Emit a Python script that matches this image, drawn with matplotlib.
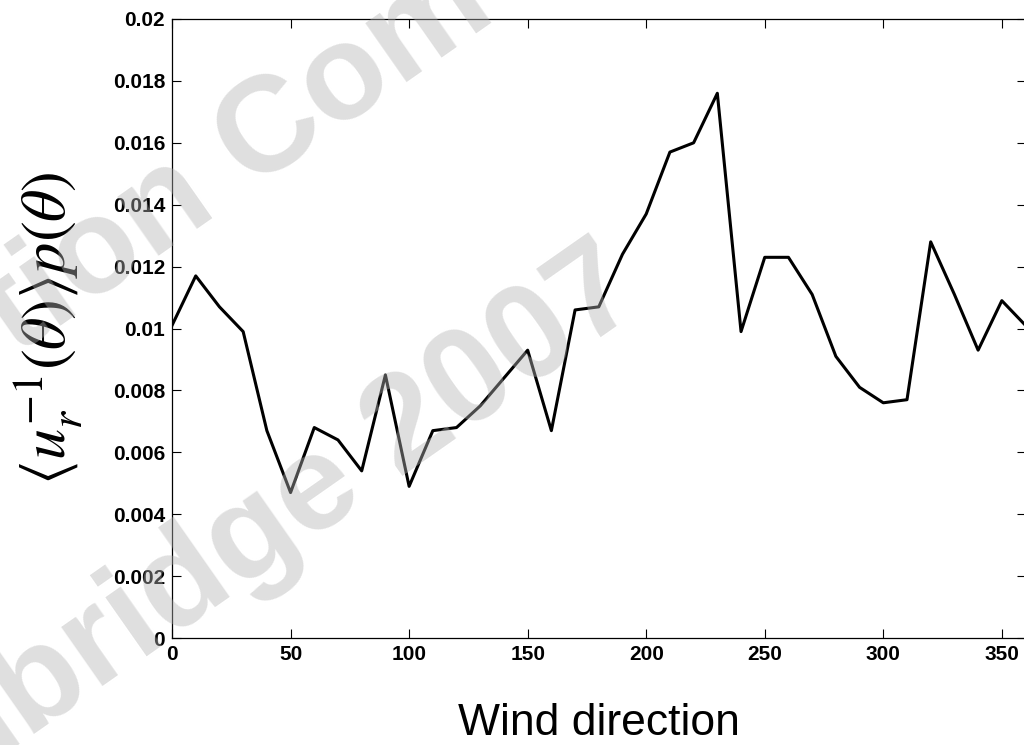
import numpy as np
import matplotlib
matplotlib.use("Agg")
import matplotlib.pyplot as plt
from matplotlib.ticker import FuncFormatter

plt.rcParams['font.family'] = ['Liberation Sans', 'DejaVu Sans']
plt.rcParams['mathtext.fontset'] = 'stix'

# wind direction (degrees) and mean inverse speed weighted by direction pdf
theta = [0, 10, 20, 30, 40, 50, 60, 70, 80, 90, 100, 110, 120, 130, 140, 150,
         160, 170, 180, 190, 200, 210, 220, 230, 240, 250, 260, 270, 280, 290,
         300, 310, 320, 330, 340, 350, 360]
inv_speed_p = [0.0101, 0.0117, 0.0107, 0.0099, 0.0067, 0.0047, 0.0068, 0.0064,
               0.0054, 0.0085, 0.0049, 0.0067, 0.0068, 0.0075, 0.0084, 0.0093,
               0.0067, 0.0106, 0.0107, 0.0124, 0.0137, 0.0157, 0.0160, 0.0176,
               0.0099, 0.0123, 0.0123, 0.0111, 0.0091, 0.0081, 0.0076, 0.0077,
               0.0128, 0.0111, 0.0093, 0.0109, 0.0101]

xticks = [0, 50, 100, 150, 200, 250, 300, 350]
yticks = [0, 0.002, 0.004, 0.006, 0.008, 0.01, 0.012, 0.014, 0.016, 0.018, 0.02]

fig = plt.figure(figsize=(10.24, 7.45), dpi=100)
ax = fig.add_axes([0.168, 0.1436, 0.8335, 0.8309])

ax.plot(theta, inv_speed_p, color='black', linewidth=2.2)

ax.set_xlim(0, 360)
ax.set_ylim(0, 0.02)
ax.set_xticks(xticks)
ax.set_yticks(yticks)
ax.yaxis.set_major_formatter(FuncFormatter(lambda v, p: '%g' % v))
ax.tick_params(direction='in', length=6.5, width=0.8, top=True, right=True,
               labelsize=15, pad=5)
for lab in ax.get_xticklabels() + ax.get_yticklabels():
    lab.set_fontweight('bold')
for s in ax.spines.values():
    s.set_linewidth(0.9)

ax.set_xlabel('Wind direction', fontsize=32, labelpad=28)
ax.set_ylabel(r'$\langle u_r^{-1}(\theta)\rangle p(\theta)$', fontsize=45,
              labelpad=20)

# watermark over the figure
wm = dict(fontsize=98, fontweight='bold', color='#b3b3b3', alpha=0.42,
          rotation=35, rotation_mode='anchor', zorder=10)
fig.text(-0.005, 1 - 328 / 745, 'tion Com', ha='left', va='center', **wm)
fig.text(628 / 1024, 1 - 276 / 745, 'Cambridge 2007', ha='right', va='center', **wm)

fig.savefig('out.png', dpi=100)
